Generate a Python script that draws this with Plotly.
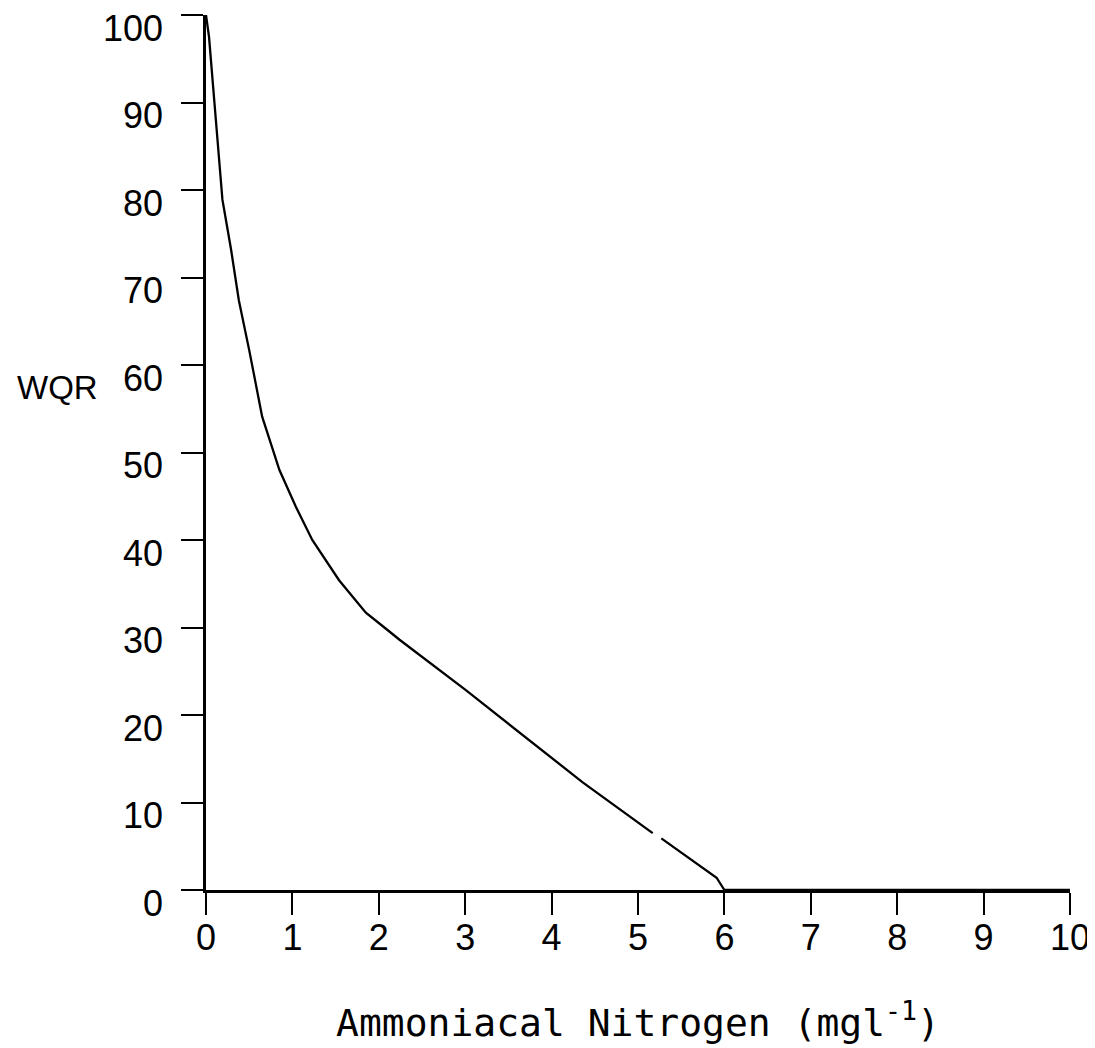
import plotly.graph_objects as go

# Data (WQR rating curve for ammoniacal nitrogen)
ammonia_mg_l = [0, 0.035, 0.19, 0.29, 0.38, 0.50, 0.65, 0.85, 1.04, 1.23, 1.54, 1.85, 2.09,
                2.24, 3.0, 3.78, 4.36, 5.17, None, 5.27, 5.91, 6.0, 10]
wqr_values = [100, 97.5, 78.9, 73.2, 67.4, 61.7, 54.1, 48.0, 43.8, 40.0, 35.4, 31.7, 29.8,
              28.6, 22.9, 16.8, 12.3, 6.5, None, 5.9, 1.4, 0, 0]

x_ticks = [0, 1, 2, 3, 4, 5, 6, 7, 8, 9, 10]
y_ticks = [0, 10, 20, 30, 40, 50, 60, 70, 80, 90, 100]

x_title = "Ammoniacal Nitrogen (mgl<sup>-1</sup>)"
y_title = "WQR"

W, H = 1095, 1048
L, R, T, B = 198, 33, 7, 166

tick_font = dict(family="Liberation Sans, Arial, sans-serif", size=36, color="black")
title_font = dict(family="DejaVu Sans Mono, monospace", size=38, color="black")

fig = go.Figure()
fig.add_trace(go.Scatter(
    x=ammonia_mg_l, y=wqr_values, mode="lines",
    line=dict(color="black", width=2.3),
    connectgaps=False, showlegend=False, hoverinfo="skip",
))

fig.update_layout(
    width=W, height=H,
    margin=dict(l=L, r=R, t=T, b=B, autoexpand=False),
    paper_bgcolor="white", plot_bgcolor="white",
    showlegend=False,
)

fig.update_xaxes(
    range=[0, 10], tickvals=x_ticks, ticktext=[str(v) for v in x_ticks],
    showgrid=False, zeroline=False, showline=True, linecolor="black", linewidth=2.8,
    ticks="outside", ticklen=22, tickwidth=2, tickcolor="black",
    tickfont=tick_font, ticklabelstandoff=-8, ticklabeloverflow="allow", automargin=False,
)
fig.update_yaxes(
    range=[0, 100], tickvals=y_ticks, ticktext=[str(v) for v in y_ticks],
    showgrid=False, zeroline=False, showline=True, linecolor="black", linewidth=2.5,
    ticks="outside", ticklen=22, tickwidth=2, tickcolor="black",
    tickfont=tick_font, ticklabelstandoff=11, ticklabelshift=13,
    ticklabeloverflow="allow", automargin=False,
)

plot_w = W - L - R
plot_h = H - T - B

fig.add_annotation(
    text=y_title, xref="paper", yref="y",
    x=(92 - L) / plot_w, y=57.4, xanchor="right", yanchor="middle",
    showarrow=False, font=dict(family="Liberation Sans, Arial, sans-serif", size=33, color="black"),
)
fig.add_annotation(
    text=x_title, xref="paper", yref="paper",
    x=0.5, y=-(1012 - (T + plot_h)) / plot_h, xanchor="center", yanchor="middle",
    showarrow=False, font=title_font,
)

fig.write_html("out.html")
